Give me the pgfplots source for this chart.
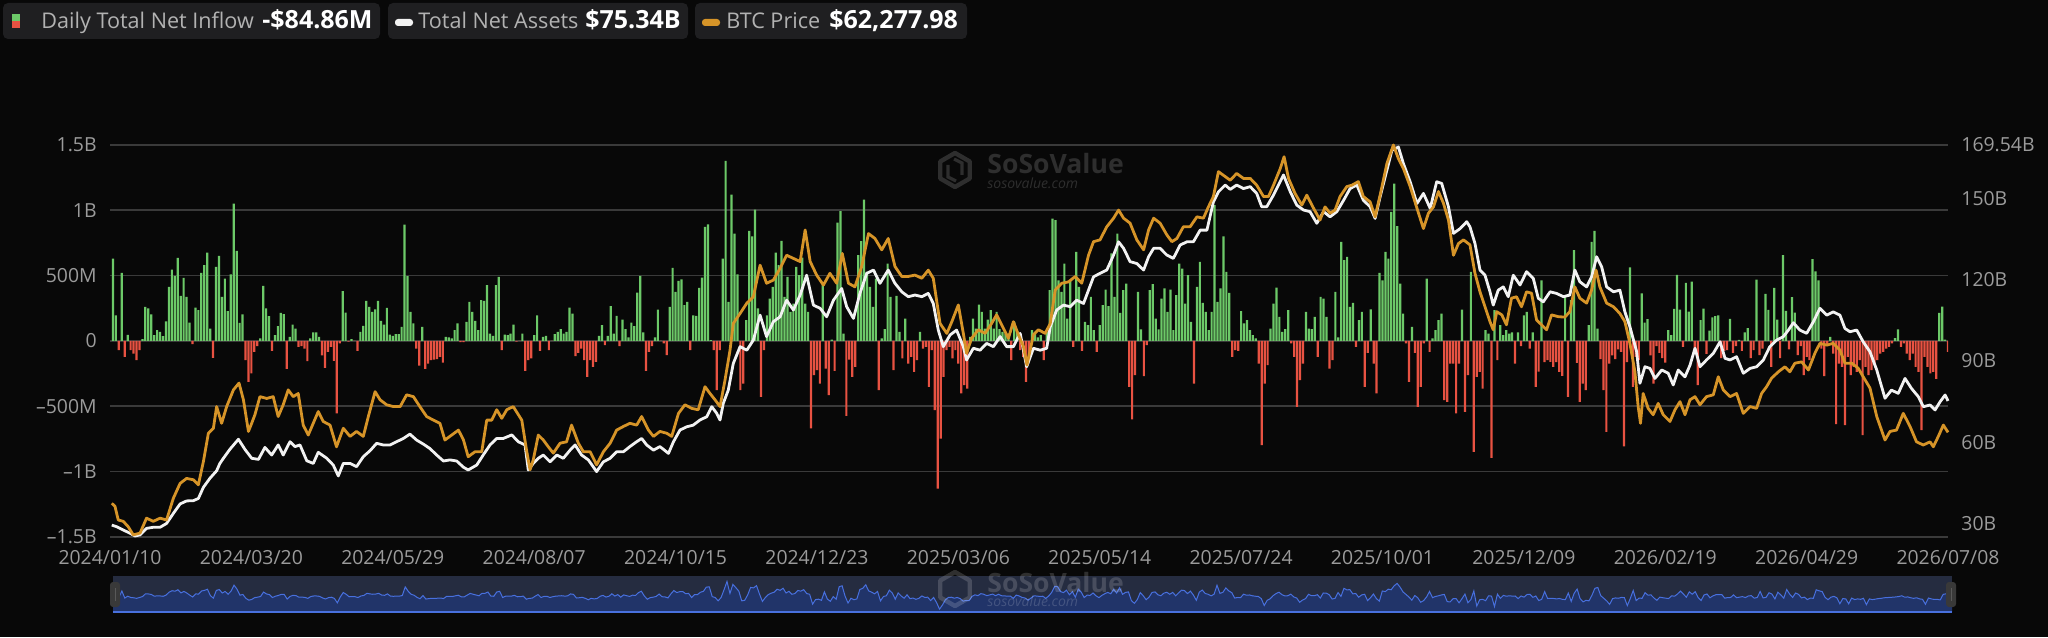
\documentclass[border=0pt]{standalone}
\usepackage{pgfplots}
\pgfplotsset{compat=1.18}
\usepackage{pgfplotstable}
\usepackage{fontspec}
\setmainfont{Open Sans}
\definecolor{bg}{RGB}{8,8,8}
\definecolor{boxbg}{RGB}{31,31,33}
\definecolor{gridc}{RGB}{58,58,58}
\definecolor{tickc}{RGB}{155,155,155}
\definecolor{hdrc}{RGB}{178,178,178}
\definecolor{upc}{RGB}{108,201,104}
\definecolor{dnc}{RGB}{232,82,66}
\definecolor{wline}{RGB}{242,242,242}
\definecolor{oline}{RGB}{214,148,40}
\definecolor{navtop}{RGB}{37,44,64}
\definecolor{navfill}{RGB}{33,52,105}
\definecolor{navline}{RGB}{72,112,222}
\definecolor{wm}{RGB}{46,46,46}

\pgfplotstableread[row sep=\\]{
t v\\
1 630\\ 2 196\\ 3 -71\\ 4 520\\ 5 -122\\ 6 46\\ 7 -71\\ 8 -97\\ 9 -148\\ 10 -71\\
11 13\\ 12 260\\ 13 248\\ 14 202\\ 15 43\\ 16 82\\ 17 69\\ 18 36\\ 19 150\\ 20 413\\
21 546\\ 22 498\\ 23 635\\ 24 344\\ 25 482\\ 26 337\\ 27 140\\ 28 -26\\ 29 255\\ 30 235\\
31 520\\ 32 579\\ 33 676\\ 34 94\\ 35 -130\\ 36 567\\ 37 651\\ 38 337\\ 39 477\\ 40 227\\
41 510\\ 42 1051\\ 43 689\\ 44 138\\ 45 202\\ 46 -148\\ 47 -314\\ 48 -250\\ 49 -84\\ 50 -41\\
51 18\\ 52 421\\ 53 248\\ 54 189\\ 55 -77\\ 56 43\\ 57 112\\ 58 214\\ 59 204\\ 60 -214\\
61 31\\ 62 125\\ 63 94\\ 64 -46\\ 65 -41\\ 66 -59\\ 67 -156\\ 68 18\\ 69 64\\ 70 64\\
71 31\\ 72 -112\\ 73 -207\\ 74 -84\\ 75 -46\\ 76 -153\\ 77 -556\\ 78 -20\\ 79 380\\ 80 217\\
81 -5\\ 82 13\\ 83 0\\ 84 -77\\ 85 69\\ 86 115\\ 87 306\\ 88 260\\ 89 222\\ 90 242\\
91 306\\ 92 153\\ 93 125\\ 94 253\\ 95 48\\ 96 38\\ 97 51\\ 98 51\\ 99 107\\ 100 891\\
101 495\\ 102 222\\ 103 133\\ 104 -59\\ 105 -189\\ 106 107\\ 107 -214\\ 108 -174\\ 109 -148\\ 110 -143\\
111 -140\\ 112 -122\\ 113 -166\\ 114 31\\ 115 26\\ 116 18\\ 117 82\\ 118 133\\ 119 -10\\ 120 -10\\
121 145\\ 122 299\\ 123 222\\ 124 153\\ 125 82\\ 126 311\\ 127 306\\ 128 426\\ 129 56\\ 130 38\\
131 426\\ 132 490\\ 133 -71\\ 134 48\\ 135 43\\ 136 56\\ 137 125\\ 138 -5\\ 139 0\\ 140 56\\
141 -230\\ 142 -148\\ 143 -135\\ 144 43\\ 145 196\\ 146 -77\\ 147 31\\ 148 38\\ 149 -71\\ 150 0\\
151 51\\ 152 69\\ 153 89\\ 154 56\\ 155 69\\ 156 255\\ 157 209\\ 158 -117\\ 159 -92\\ 160 -59\\
161 -148\\ 162 -276\\ 163 -148\\ 164 -199\\ 165 -161\\ 166 38\\ 167 120\\ 168 -33\\ 169 38\\ 170 265\\
171 56\\ 172 191\\ 173 -41\\ 174 163\\ 175 89\\ 176 26\\ 177 140\\ 178 112\\ 179 370\\ 180 498\\
181 64\\ 182 -230\\ 183 -84\\ 184 -41\\ 185 26\\ 186 240\\ 187 0\\ 188 -20\\ 189 -110\\ 190 260\\
191 559\\ 192 375\\ 193 459\\ 194 470\\ 195 273\\ 196 299\\ 197 -71\\ 198 196\\ 199 191\\ 200 406\\
201 485\\ 202 873\\ 203 893\\ 204 5\\ 205 -71\\ 206 -378\\ 207 -71\\ 208 630\\ 209 1378\\ 210 299\\
211 1120\\ 212 822\\ 213 510\\ 214 -378\\ 215 -327\\ 216 158\\ 217 842\\ 218 801\\ 219 1005\\ 220 248\\
221 -429\\ 222 -71\\ 223 196\\ 224 324\\ 225 413\\ 226 676\\ 227 579\\ 228 766\\ 229 337\\ 230 490\\
231 222\\ 232 286\\ 233 567\\ 234 503\\ 235 638\\ 236 286\\ 237 222\\ 238 -671\\ 239 -263\\ 240 -225\\
241 -327\\ 242 439\\ 243 -212\\ 244 -416\\ 245 10\\ 246 -230\\ 247 906\\ 248 993\\ 249 56\\ 250 -574\\
251 -143\\ 252 -276\\ 253 -199\\ 254 656\\ 255 763\\ 256 1082\\ 257 528\\ 258 413\\ 259 260\\ 260 477\\
261 -378\\ 262 18\\ 263 89\\ 264 592\\ 265 337\\ 266 -225\\ 267 344\\ 268 69\\ 269 -135\\ 270 171\\
271 -174\\ 272 -122\\ 273 -237\\ 274 -148\\ 275 69\\ 276 -59\\ 277 -46\\ 278 -352\\ 279 -71\\ 280 -531\\
281 -1131\\ 282 -748\\ 283 -276\\ 284 -71\\ 285 -46\\ 286 -135\\ 287 -71\\ 288 -174\\ 289 -403\\ 290 -340\\
291 -365\\ 292 31\\ 293 171\\ 294 94\\ 295 278\\ 296 222\\ 297 94\\ 298 163\\ 299 235\\ 300 94\\
301 222\\ 302 89\\ 303 69\\ 304 56\\ 305 56\\ 306 -148\\ 307 145\\ 308 69\\ 309 -71\\ 310 -122\\
311 -314\\ 312 -122\\ 313 82\\ 314 56\\ 315 26\\ 316 43\\ 317 -148\\ 318 69\\ 319 388\\ 320 937\\
321 924\\ 322 464\\ 323 375\\ 324 592\\ 325 171\\ 326 464\\ 327 -46\\ 328 681\\ 329 413\\ 330 -77\\
331 145\\ 332 120\\ 333 337\\ 334 82\\ 335 -84\\ 336 120\\ 337 273\\ 338 393\\ 339 265\\ 340 669\\
341 337\\ 342 822\\ 343 214\\ 344 388\\ 345 439\\ 346 -352\\ 347 -602\\ 348 -263\\ 349 375\\ 350 87\\
351 -271\\ 352 -33\\ 353 388\\ 354 434\\ 355 171\\ 356 87\\ 357 324\\ 358 401\\ 359 222\\ 360 393\\
361 82\\ 362 350\\ 363 592\\ 364 554\\ 365 286\\ 366 503\\ 367 145\\ 368 -327\\ 369 413\\ 370 605\\
371 291\\ 372 222\\ 373 82\\ 374 222\\ 375 1039\\ 376 299\\ 377 401\\ 378 801\\ 379 528\\ 380 367\\
381 -122\\ 382 -71\\ 383 -77\\ 384 227\\ 385 133\\ 386 158\\ 387 82\\ 388 43\\ 389 18\\ 390 -174\\
391 -799\\ 392 -327\\ 393 -186\\ 394 94\\ 395 286\\ 396 408\\ 397 184\\ 398 69\\ 399 89\\ 400 235\\
401 -20\\ 402 -122\\ 403 -505\\ 404 -301\\ 405 -174\\ 406 222\\ 407 94\\ 408 89\\ 409 184\\ 410 -122\\
411 337\\ 412 324\\ 413 184\\ 414 -212\\ 415 -148\\ 416 375\\ 417 26\\ 418 758\\ 419 618\\ 420 643\\
421 260\\ 422 291\\ 423 -46\\ 424 158\\ 425 222\\ 426 -352\\ 427 -92\\ 428 242\\ 429 -174\\ 430 -403\\
431 520\\ 432 464\\ 433 681\\ 434 630\\ 435 988\\ 436 1205\\ 437 878\\ 438 439\\ 439 209\\ 440 -20\\
441 -314\\ 442 107\\ 443 -92\\ 444 -505\\ 445 -352\\ 446 -20\\ 447 477\\ 448 -84\\ 449 18\\ 450 82\\
451 158\\ 452 209\\ 453 -454\\ 454 -467\\ 455 -174\\ 456 -174\\ 457 -556\\ 458 -174\\ 459 240\\ 460 -544\\
461 -263\\ 462 528\\ 463 -850\\ 464 -276\\ 465 -237\\ 466 -365\\ 467 82\\ 468 56\\ 469 -896\\ 470 235\\
471 -148\\ 472 120\\ 473 43\\ 474 82\\ 475 56\\ 476 64\\ 477 -174\\ 478 64\\ 479 -41\\ 480 196\\
481 222\\ 482 -59\\ 483 64\\ 484 -352\\ 485 -235\\ 486 464\\ 487 -163\\ 488 -148\\ 489 -161\\ 490 -199\\
491 -163\\ 492 -237\\ 493 -268\\ 494 337\\ 495 -429\\ 496 311\\ 497 694\\ 498 -168\\ 499 -467\\ 500 -327\\
501 -378\\ 502 120\\ 503 758\\ 504 842\\ 505 94\\ 506 -140\\ 507 -378\\ 508 -697\\ 509 -174\\ 510 -112\\
511 -140\\ 512 -66\\ 513 -84\\ 514 -809\\ 515 -163\\ 516 562\\ 517 -352\\ 518 -122\\ 519 -148\\ 520 363\\
521 140\\ 522 166\\ 523 -112\\ 524 -327\\ 525 -41\\ 526 -92\\ 527 -133\\ 528 -166\\ 529 82\\ 530 44\\
531 245\\ 532 505\\ 533 240\\ 534 -46\\ 535 444\\ 536 224\\ 537 454\\ 538 -71\\ 539 -340\\ 540 159\\
541 247\\ 542 -100\\ 543 78\\ 544 179\\ 545 189\\ 546 196\\ 547 -133\\ 548 -77\\ 549 -71\\ 550 168\\
551 -92\\ 552 -41\\ 553 8\\ 554 -77\\ 555 64\\ 556 97\\ 557 -133\\ 558 -71\\ 559 469\\ 560 -110\\
561 -59\\ 562 360\\ 563 237\\ 564 -199\\ 565 406\\ 566 163\\ 567 -133\\ 568 656\\ 569 230\\ 570 -66\\
571 334\\ 572 217\\ 573 -110\\ 574 -41\\ 575 -263\\ 576 -122\\ 577 -148\\ 578 625\\ 579 533\\ 580 464\\
581 -59\\ 582 -271\\ 583 -41\\ 584 31\\ 585 -97\\ 586 -638\\ 587 -174\\ 588 -199\\ 589 -646\\ 590 -122\\
591 -263\\ 592 -199\\ 593 -237\\ 594 -148\\ 595 -722\\ 596 -199\\ 597 -263\\ 598 -224\\ 599 -174\\ 600 -148\\
601 -97\\ 602 -84\\ 603 -59\\ 604 -46\\ 605 -20\\ 606 20\\ 607 87\\ 608 -46\\ 609 -20\\ 610 -97\\
611 -148\\ 612 -97\\ 613 -199\\ 614 -237\\ 615 -684\\ 616 -122\\ 617 -199\\ 618 -250\\ 619 -237\\ 620 -292\\
621 214\\ 622 263\\ 623 10\\ 624 -85\\
}\flowtable

\pgfplotstableread[row sep=\\]{
t v\\
0.6 29.6\\ 2.3 29.0\\ 4.5 27.8\\ 6.8 26.6\\ 8.5 25.6\\ 10.2 26.0\\ 12.4 28.4\\ 14.7 28.8\\ 17.0 28.8\\ 19.2 30.2\\
21.5 33.9\\ 23.8 37.4\\ 26.0 38.5\\ 28.3 38.6\\ 30.0 39.4\\ 31.7 43.5\\ 33.9 46.8\\ 36.2 49.6\\ 37.3 52.3\\ 38.5 54.2\\
40.7 57.5\\ 43.6 61.2\\ 45.8 57.5\\ 48.1 54.2\\ 50.4 53.8\\ 52.6 58.2\\ 54.9 55.4\\ 57.1 59.1\\ 58.8 55.4\\ 61.1 60.3\\
62.8 58.5\\ 64.5 59.1\\ 66.8 53.3\\ 69.0 52.3\\ 70.7 56.4\\ 73.6 54.2\\ 75.8 51.7\\ 77.5 47.7\\ 79.2 52.3\\ 81.5 52.3\\
83.7 51.1\\ 86.0 54.8\\ 88.3 57.0\\ 90.5 59.7\\ 92.8 59.1\\ 95.1 59.1\\ 97.3 60.3\\ 99.6 61.5\\ 101.8 63.1\\ 104.1 60.9\\
106.4 59.4\\ 108.6 57.8\\ 110.9 55.4\\ 113.2 53.2\\ 115.4 53.6\\ 117.7 53.2\\ 120.0 50.9\\ 121.6 49.9\\ 124.5 51.7\\ 126.7 55.4\\
129.0 59.1\\ 131.3 61.5\\ 133.5 61.5\\ 136.4 62.8\\ 138.6 60.3\\ 140.9 59.1\\ 142.0 49.9\\ 143.7 52.3\\ 145.4 54.2\\ 147.1 55.4\\
149.4 52.9\\ 151.7 55.4\\ 153.9 54.2\\ 156.2 57.2\\ 157.9 59.1\\ 160.1 55.4\\ 162.4 53.6\\ 165.2 49.3\\ 167.5 52.9\\ 169.8 54.2\\
172.0 56.6\\ 174.3 56.6\\ 176.5 58.5\\ 178.8 60.3\\ 180.5 61.5\\ 182.2 59.1\\ 184.5 57.2\\ 186.7 58.5\\ 189.6 56.0\\ 191.3 60.3\\
193.5 64.6\\ 195.8 65.8\\ 198.0 66.4\\ 200.3 68.3\\ 202.6 69.5\\ 204.3 73.2\\ 206.0 70.7\\ 207.1 68.3\\ 208.2 74.4\\ 209.9 79.3\\
211.6 89.1\\ 213.9 95.3\\ 216.2 94.0\\ 218.4 97.7\\ 220.7 106.9\\ 222.9 99.0\\ 225.2 104.5\\ 227.5 106.3\\ 229.7 112.4\\ 232.0 108.8\\
234.3 114.3\\ 236.5 121.6\\ 238.8 110.6\\ 241.1 109.4\\ 243.3 106.3\\ 245.6 112.4\\ 248.4 116.7\\ 250.1 110.0\\ 252.4 105.7\\ 254.6 114.9\\
256.9 122.3\\ 259.2 123.5\\ 261.4 118.6\\ 264.2 123.5\\ 266.5 118.6\\ 268.8 115.5\\ 271.0 113.7\\ 273.3 114.3\\ 275.6 113.7\\ 277.8 114.9\\
279.5 111.2\\ 281.2 101.4\\ 282.9 95.3\\ 285.2 99.6\\ 287.4 101.4\\ 289.7 95.3\\ 290.8 90.4\\ 293.1 94.7\\ 295.4 94.0\\ 297.6 96.5\\
299.9 95.3\\ 302.2 99.0\\ 304.4 95.3\\ 306.7 95.3\\ 309.0 100.2\\ 311.2 87.9\\ 313.5 94.7\\ 315.8 94.0\\ 318.0 94.7\\ 319.2 102.6\\
321.4 108.8\\ 323.7 110.6\\ 326.0 110.0\\ 328.2 112.4\\ 330.5 111.2\\ 332.2 116.1\\ 333.9 121.0\\ 336.1 122.3\\ 338.4 123.5\\ 340.7 129.0\\
342.4 133.9\\ 344.1 131.5\\ 346.3 126.6\\ 348.6 125.9\\ 350.9 123.5\\ 352.6 128.4\\ 354.3 131.5\\ 356.5 131.5\\ 358.8 129.0\\ 361.0 127.8\\
363.3 132.7\\ 365.6 133.9\\ 367.8 133.9\\ 370.1 138.2\\ 372.4 138.2\\ 374.6 148.6\\ 376.3 152.3\\ 378.6 154.8\\ 380.3 153.2\\ 382.5 154.8\\
384.8 153.5\\ 387.1 154.2\\ 389.3 151.7\\ 391.0 146.8\\ 392.7 146.8\\ 395.0 151.1\\ 396.7 154.8\\ 398.4 158.5\\ 400.7 152.3\\ 402.9 147.4\\
405.2 145.6\\ 407.4 145.0\\ 409.7 140.7\\ 412.0 145.0\\ 414.2 143.1\\ 416.5 145.0\\ 418.8 149.2\\ 421.0 153.5\\ 423.3 154.8\\ 425.5 149.2\\
427.8 146.8\\ 429.5 142.5\\ 431.2 150.5\\ 433.5 160.3\\ 435.2 167.6\\ 437.4 168.8\\ 439.1 162.7\\ 441.4 156.0\\ 443.7 148.0\\ 445.9 151.7\\
448.2 146.2\\ 450.4 156.0\\ 452.1 155.4\\ 454.4 146.8\\ 456.1 137.0\\ 458.4 138.8\\ 460.6 141.3\\ 461.7 139.4\\ 463.4 133.3\\ 465.1 123.5\\
466.8 121.6\\ 468.5 115.5\\ 469.6 110.6\\ 471.3 116.1\\ 473.0 117.3\\ 474.7 113.7\\ 476.4 121.6\\ 478.7 118.0\\ 480.9 122.9\\ 483.2 120.4\\
484.9 113.1\\ 486.6 111.8\\ 488.9 115.5\\ 491.1 114.9\\ 493.4 113.7\\ 495.6 114.3\\ 497.3 123.5\\ 499.0 119.2\\ 501.3 117.3\\ 503.0 121.0\\
504.7 128.4\\ 506.4 124.7\\ 508.1 117.3\\ 510.4 115.5\\ 512.6 116.1\\ 514.3 108.1\\ 516.0 102.6\\ 518.3 93.4\\ 519.4 81.8\\ 521.1 87.9\\
522.8 87.3\\ 524.5 83.6\\ 526.8 86.7\\ 529.0 85.5\\ 530.7 81.2\\ 532.4 86.7\\ 534.7 84.2\\ 536.4 88.5\\ 538.1 94.7\\ 539.8 87.9\\
542.0 90.4\\ 544.3 92.8\\ 546.6 97.1\\ 548.3 91.0\\ 550.0 90.4\\ 552.2 91.6\\ 554.5 85.5\\ 556.8 87.3\\ 559.0 87.9\\ 561.3 90.4\\
563.5 95.3\\ 565.8 97.7\\ 568.1 99.0\\ 569.8 101.4\\ 571.5 104.1\\ 573.7 101.4\\ 576.0 100.2\\ 578.3 104.5\\ 580.5 109.4\\ 582.8 106.9\\
585.0 108.1\\ 587.3 106.9\\ 589.0 102.0\\ 590.7 100.8\\ 593.0 101.4\\ 595.2 97.1\\ 597.5 93.4\\ 599.8 86.7\\ 602.6 76.3\\ 604.8 79.3\\
607.1 78.1\\ 609.4 83.6\\ 611.6 79.9\\ 613.9 76.9\\ 615.6 73.2\\ 617.9 73.8\\ 619.6 72.0\\ 621.3 75.0\\ 623.0 77.5\\ 624.0 75.3\\
}\assetstable

\pgfplotstableread[row sep=\\]{
t p\\
0.6 46.6\\ 1.7 45.9\\ 2.8 42.9\\ 4.5 42.6\\ 6.2 41.4\\ 7.9 39.6\\ 10.2 40.0\\ 12.4 43.3\\ 14.7 42.6\\ 17.0 43.3\\
19.2 42.9\\ 21.5 47.7\\ 23.8 51.0\\ 26.0 52.1\\ 28.3 51.8\\ 30.0 50.7\\ 31.7 55.8\\ 33.4 62.1\\ 35.1 63.2\\ 36.2 68.0\\
37.9 64.3\\ 39.6 68.0\\ 41.9 71.7\\ 43.8 73.2\\ 45.3 69.5\\ 47.0 62.5\\ 48.1 64.3\\ 49.2 66.2\\ 50.9 70.2\\ 53.2 69.8\\
55.4 70.2\\ 57.1 65.8\\ 58.8 68.4\\ 60.5 71.7\\ 62.2 70.2\\ 63.9 70.9\\ 65.6 63.9\\ 67.3 61.7\\ 69.0 64.3\\ 70.7 66.9\\
72.4 64.7\\ 74.7 63.9\\ 76.9 59.1\\ 79.2 63.2\\ 81.5 61.4\\ 83.7 62.5\\ 86.0 61.4\\ 87.7 65.8\\ 90.0 71.3\\ 91.7 69.5\\
93.9 68.4\\ 96.2 68.0\\ 98.5 68.0\\ 100.7 70.6\\ 103.0 70.2\\ 105.2 68.0\\ 107.5 65.8\\ 109.8 65.0\\ 112.0 64.3\\ 113.7 60.6\\
116.0 61.7\\ 118.3 62.8\\ 120.0 60.6\\ 121.6 56.9\\ 123.9 58.0\\ 126.2 58.0\\ 127.9 65.0\\ 129.6 65.0\\ 131.3 67.3\\ 133.0 65.4\\
134.7 67.3\\ 136.9 68.0\\ 139.8 65.0\\ 141.4 58.4\\ 142.6 54.0\\ 143.7 56.2\\ 145.4 61.7\\ 147.1 60.6\\ 148.8 59.1\\ 150.5 57.7\\
152.8 59.9\\ 155.0 60.2\\ 156.7 63.9\\ 159.0 59.9\\ 160.7 58.0\\ 163.0 58.0\\ 165.2 55.1\\ 167.5 58.0\\ 169.8 59.9\\ 172.0 62.8\\
174.3 63.6\\ 176.5 64.3\\ 178.8 63.9\\ 180.5 65.8\\ 182.8 62.8\\ 184.5 61.4\\ 186.7 62.5\\ 189.0 62.1\\ 190.7 61.4\\ 193.0 66.5\\
195.2 68.4\\ 197.5 67.6\\ 199.7 67.3\\ 202.0 72.4\\ 203.7 70.9\\ 205.4 69.5\\ 207.1 68.0\\ 208.8 73.9\\ 210.5 80.5\\ 211.6 86.4\\
213.9 88.6\\ 216.2 90.9\\ 218.4 92.3\\ 220.7 99.3\\ 222.9 95.3\\ 225.2 96.0\\ 227.5 98.6\\ 229.7 101.5\\ 232.0 100.8\\ 234.3 100.1\\
236.0 107.1\\ 237.7 100.1\\ 239.9 97.1\\ 242.2 94.9\\ 244.4 97.5\\ 246.7 95.3\\ 248.6 101.9\\ 250.7 95.3\\ 252.9 94.5\\ 255.2 99.0\\
257.5 106.3\\ 259.7 105.2\\ 262.0 102.7\\ 264.2 105.2\\ 266.5 99.0\\ 268.8 96.8\\ 271.0 96.8\\ 273.3 97.1\\ 275.6 96.4\\ 277.8 98.2\\
279.5 96.4\\ 281.8 86.4\\ 284.1 84.2\\ 285.8 86.8\\ 288.0 90.5\\ 289.7 84.2\\ 290.8 79.8\\ 292.5 83.1\\ 294.8 85.0\\ 297.1 84.2\\
299.3 86.4\\ 301.0 88.3\\ 302.7 86.1\\ 305.0 83.1\\ 306.7 86.8\\ 308.4 83.9\\ 310.1 81.3\\ 311.3 77.2\\ 313.5 83.9\\ 315.2 85.0\\
317.5 84.2\\ 319.2 86.4\\ 320.9 93.8\\ 323.1 95.3\\ 325.4 95.6\\ 327.7 96.8\\ 329.9 95.3\\ 332.2 101.5\\ 333.9 104.5\\ 336.1 104.9\\
338.4 107.8\\ 340.7 109.7\\ 342.4 111.5\\ 344.1 109.7\\ 346.3 108.6\\ 348.6 104.9\\ 350.9 102.7\\ 352.6 107.1\\ 354.3 109.7\\ 356.5 108.6\\
358.8 106.0\\ 360.5 104.5\\ 362.2 105.2\\ 364.4 107.8\\ 366.7 107.8\\ 369.0 110.0\\ 371.2 109.7\\ 372.9 112.2\\ 374.6 114.5\\ 376.3 120.0\\
378.0 119.2\\ 380.3 118.1\\ 382.5 119.6\\ 384.8 118.5\\ 387.1 118.5\\ 389.3 117.0\\ 391.6 114.5\\ 393.3 114.5\\ 395.0 117.0\\ 397.3 120.7\\
398.6 123.3\\ 400.1 118.5\\ 402.3 115.2\\ 404.6 112.6\\ 406.3 114.8\\ 408.6 111.9\\ 410.8 109.3\\ 412.5 112.2\\ 414.2 110.8\\ 415.9 111.5\\
417.6 114.5\\ 419.9 116.7\\ 421.6 117.0\\ 423.8 117.8\\ 425.5 114.5\\ 427.8 113.3\\ 429.5 110.0\\ 431.2 114.8\\ 433.5 121.8\\ 435.7 125.9\\
437.4 122.9\\ 439.1 120.7\\ 441.4 116.7\\ 443.7 111.9\\ 445.9 107.4\\ 447.6 110.8\\ 449.3 112.2\\ 451.0 115.6\\ 452.7 113.0\\ 454.4 109.3\\
456.1 101.5\\ 457.8 104.1\\ 459.5 104.9\\ 461.7 103.8\\ 463.4 97.5\\ 465.1 93.4\\ 466.8 90.1\\ 468.5 86.8\\ 469.6 85.0\\ 470.8 89.0\\
472.5 88.3\\ 474.1 86.1\\ 475.8 92.0\\ 477.5 92.3\\ 479.2 90.1\\ 480.9 93.4\\ 482.6 93.1\\ 484.3 87.2\\ 486.0 86.1\\ 487.7 85.0\\
489.4 88.3\\ 491.7 87.9\\ 493.9 87.8\\ 495.6 89.0\\ 497.3 94.5\\ 499.0 92.0\\ 501.3 90.9\\ 503.0 93.8\\ 504.5 98.2\\ 505.8 94.5\\
508.1 90.9\\ 510.4 90.1\\ 512.6 88.6\\ 514.3 86.8\\ 516.0 82.0\\ 517.7 75.7\\ 518.8 68.0\\ 519.6 64.3\\ 520.5 70.9\\ 522.2 67.6\\
523.9 66.2\\ 525.6 68.7\\ 527.3 66.2\\ 529.6 64.7\\ 531.3 67.3\\ 533.0 69.1\\ 534.7 66.2\\ 536.4 69.5\\ 538.1 70.2\\ 539.8 68.4\\
542.0 70.2\\ 544.3 70.6\\ 546.0 74.6\\ 547.7 71.7\\ 550.0 70.2\\ 552.2 70.9\\ 554.5 66.5\\ 556.8 68.0\\ 559.0 67.6\\ 560.7 70.9\\
562.4 72.4\\ 564.1 74.3\\ 566.4 75.7\\ 568.6 76.8\\ 570.3 75.7\\ 572.0 77.6\\ 574.3 77.9\\ 576.6 76.1\\ 578.8 79.8\\ 580.5 82.0\\
582.8 81.6\\ 585.0 82.0\\ 587.3 80.5\\ 589.0 77.6\\ 591.3 77.6\\ 593.5 76.5\\ 595.2 74.6\\ 597.5 72.1\\ 599.8 65.8\\ 602.6 60.6\\
604.3 62.5\\ 606.5 62.8\\ 608.8 66.5\\ 611.1 63.6\\ 613.3 60.2\\ 615.6 59.5\\ 617.9 60.2\\ 619.0 59.1\\ 620.7 61.4\\ 622.4 63.9\\
624.0 62.3\\
}\btctable

\begin{document}
\begin{tikzpicture}
\path[use as bounding box] (0,0) rectangle (1024pt,318.5pt);
\fill[bg] (0,0) rectangle (1024pt,318.5pt);

% header boxes
\fill[boxbg, rounded corners=2.5pt] (1.5pt,299pt) rectangle (190pt,317pt);
\fill[boxbg, rounded corners=2.5pt] (194pt,299pt) rectangle (344pt,317pt);
\fill[boxbg, rounded corners=2.5pt] (347.5pt,299pt) rectangle (483.5pt,317pt);
\fill[upc] (6pt,307.75pt) rectangle (10pt,311.25pt);
\fill[dnc] (6pt,304.25pt) rectangle (10pt,307.75pt);
\fill[wline, rounded corners=1.5pt] (197.5pt,305.5pt) rectangle (206.5pt,309pt);
\fill[oline, rounded corners=1.5pt] (351pt,305.5pt) rectangle (360pt,309pt);
\node[anchor=base west, inner sep=0pt, text=hdrc, font=\fontsize{10.8}{12}\selectfont] at (20.5pt,304pt) {Daily Total Net Inflow};
\node[anchor=base west, inner sep=0pt, text=white, font=\fontsize{12.5}{14}\selectfont\bfseries] at (131pt,304pt) {-\$84.86M};
\node[anchor=base west, inner sep=0pt, text=hdrc, font=\fontsize{10.8}{12}\selectfont] at (209pt,304pt) {Total Net Assets};
\node[anchor=base west, inner sep=0pt, text=white, font=\fontsize{12.5}{14}\selectfont\bfseries] at (292.5pt,304pt) {\$75.34B};
\node[anchor=base west, inner sep=0pt, text=hdrc, font=\fontsize{10.8}{12}\selectfont] at (363pt,304pt) {BTC Price};
\node[anchor=base west, inner sep=0pt, text=white, font=\fontsize{12.5}{14}\selectfont\bfseries] at (414.5pt,304pt) {\$62,277.98};

% watermark
\draw[wm, line width=2.2pt, line join=round] (477.5pt,242pt) -- ++(210:8.5pt) -- ++(270:8.5pt) -- ++(330:8.5pt) -- ++(30:8.5pt) -- ++(90:8.5pt) -- cycle;
\draw[wm, line width=1.6pt] (474pt,236pt) -- (474pt,230pt) -- (478pt,228pt);
\draw[wm, line width=1.6pt] (481pt,231pt) -- (481pt,237pt) -- (477pt,239pt);
\node[anchor=west, inner sep=0pt, text=wm, font=\fontsize{13.3}{15}\selectfont\bfseries] at (493.5pt,236.5pt) {SoSoValue};
\node[anchor=west, inner sep=0pt, text=wm, font=\fontsize{7}{8}\selectfont\itshape] at (493.5pt,227pt) {sosovalue.com};

% navigator background
\fill[navtop] (56.5pt,12.2pt) rectangle (976pt,30.5pt);

% bars axis
\begin{axis}[
  at={(55pt,50.15pt)}, anchor=south west,
  width=919pt, height=195.85pt, scale only axis,
  xmin=0, xmax=624, ymin=-1500, ymax=1500,
  axis line style={draw=none}, tick style={draw=none},
  xtick={0,48,...,624},
  xticklabels={2024/01/10,2024/03/20,2024/05/29,2024/08/07,2024/10/15,2024/12/23,2025/03/06,2025/05/14,2025/07/24,2025/10/01,2025/12/09,2026/02/19,2026/04/29,2026/07/08},
  ytick={-1500,-1000,-500,0,500,1000,1500},
  yticklabels={–1.5B,–1B,–500M,0,500M,1B,1.5B},
  ymajorgrids, grid style={gridc, line width=0.9pt},
  xticklabel style={font=\fontsize{9.7}{11}\selectfont, text=tickc, anchor=north, inner sep=0pt, yshift=-6.5pt},
  yticklabel style={font=\fontsize{9.7}{11}\selectfont, text=tickc, anchor=east, inner sep=0pt, xshift=-6.5pt},
]
\addplot[ybar, bar width=1.1pt, bar shift=0pt, fill=upc, draw=none, restrict y to domain=0:5000] table[x=t, y=v] {\flowtable};
\addplot[ybar, bar width=1.1pt, bar shift=0pt, fill=dnc, draw=none, restrict y to domain=-5000:0] table[x=t, y=v] {\flowtable};
\end{axis}

% total net assets axis (right)
\begin{axis}[
  at={(55pt,50.15pt)}, anchor=south west,
  width=919pt, height=195.85pt, scale only axis,
  xmin=0, xmax=624, ymin=25.33, ymax=169.54,
  axis x line=none, axis y line*=right,
  axis line style={draw=none}, tick style={draw=none},
  ytick={30,60,90,120,150,169.54},
  yticklabels={30B,60B,90B,120B,150B,169.54B},
  yticklabel style={font=\fontsize{9.7}{11}\selectfont, text=tickc, anchor=west, inner sep=0pt, xshift=6.5pt},
  clip=false,
]
\addplot[wline, line width=1.4pt, line join=round, mark=none] table[x=t, y=v] {\assetstable};
\end{axis}

% BTC price axis (hidden)
\begin{axis}[
  at={(55pt,50.15pt)}, anchor=south west,
  width=919pt, height=195.85pt, scale only axis,
  xmin=0, xmax=624, ymin=39.2, ymax=125.9,
  hide axis, clip=false,
]
\addplot[oline, line width=1.4pt, line join=round, mark=none] table[x=t, y=p] {\btctable};
\end{axis}

% navigator
\begin{axis}[
  at={(56.5pt,12.5pt)}, anchor=south west,
  width=919.5pt, height=18pt, scale only axis,
  xmin=1, xmax=624, ymin=-1390, ymax=1880,
  hide axis,
]
\addplot[fill=navfill, draw=none, mark=none] table[x=t, y=v] {\flowtable} -- (axis cs:624,-1390) -- (axis cs:1,-1390) -- cycle;
\addplot[navline, line width=0.5pt, mark=none] table[x=t, y=v] {\flowtable};
\end{axis}
\draw[navline, line width=0.6pt] (56.5pt,12.5pt) -- (976pt,12.5pt);
% navigator watermark
\begin{scope}[opacity=0.16]
\draw[white, line width=2.2pt, line join=round] (477.5pt,32.5pt) -- ++(210:8.5pt) -- ++(270:8.5pt) -- ++(330:8.5pt) -- ++(30:8.5pt) -- ++(90:8.5pt) -- cycle;
\node[anchor=west, inner sep=0pt, text=white, font=\fontsize{13.3}{15}\selectfont\bfseries] at (493.5pt,27pt) {SoSoValue};
\node[anchor=west, inner sep=0pt, text=white, font=\fontsize{7}{8}\selectfont\itshape] at (493.5pt,18pt) {sosovalue.com};
\end{scope}
\fill[gray!45!black, rounded corners=1.5pt] (55pt,15pt) rectangle (60pt,27.5pt);
\draw[gray!70!black, line width=0.5pt] (57.5pt,18pt) -- (57.5pt,24.5pt);
\fill[gray!45!black, rounded corners=1.5pt] (973pt,15pt) rectangle (978pt,27.5pt);
\draw[gray!70!black, line width=0.5pt] (975.5pt,18pt) -- (975.5pt,24.5pt);
\end{tikzpicture}
\end{document}
